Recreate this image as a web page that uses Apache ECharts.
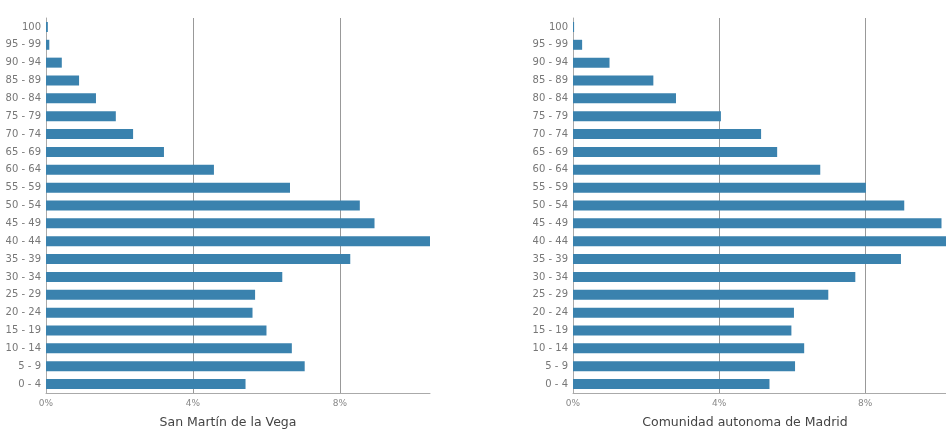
<!DOCTYPE html>
<html><head><meta charset="utf-8">
<script src="https://cdn.jsdelivr.net/npm/echarts@6/dist/echarts.min.js"></script>
<style>html,body{margin:0;padding:0;background:#fff;overflow:hidden}#c{width:960px;height:429px}</style>
</head><body><div id="c"></div>
<script>
const categories = ['0 - 4','5 - 9','10 - 14','15 - 19','20 - 24','25 - 29','30 - 34','35 - 39','40 - 44','45 - 49','50 - 54','55 - 59','60 - 64','65 - 69','70 - 74','75 - 79','80 - 84','85 - 89','90 - 94','95 - 99','100'];
const sanMartin = [5.43,7.04,6.69,6.0,5.62,5.69,6.43,8.28,10.45,8.94,8.54,6.64,4.57,3.21,2.37,1.9,1.36,0.9,0.43,0.09,0.05];
const madrid = [5.38,6.08,6.33,5.98,6.05,6.99,7.73,8.98,10.35,10.09,9.07,8.02,6.77,5.59,5.15,4.05,2.82,2.2,1.0,0.25,0.03];
const titles = ['San Martín de la Vega','Comunidad autonoma de Madrid'];

const font = 'DejaVu Sans';
const barColor = '#3a82ae';
function xAxis(i, max){
  return {gridIndex:i, type:'value', min:0, max:max, interval:4,
    axisLine:{show:true, lineStyle:{color:'#aaa', width:1}},
    axisTick:{show:false},
    axisLabel:{formatter:'{value}%', color:'#888', fontSize:9, fontFamily:font, showMaxLabel:false, margin:6},
    splitLine:{show:true, showMinLine:false, showMaxLine:false, lineStyle:{color:'#999', width:1}}};
}
function yAxis(i){
  return {gridIndex:i, type:'category', data:categories,
    axisLine:{show:true, lineStyle:{color:'#aaa', width:1}},
    axisTick:{show:false},
    axisLabel:{color:'#777', fontSize:10, fontFamily:font, margin:5}};
}
const chart = echarts.init(document.getElementById('c'), null, {renderer:'canvas'});
chart.setOption({
  animation:false,
  title: [
    {text:titles[0], left:223, top:411, textAlign:'center', textStyle:{fontSize:12.5, fontWeight:'normal', color:'#444', fontFamily:font}},
    {text:titles[1], left:740, top:411, textAlign:'center', textStyle:{fontSize:12.5, fontWeight:'normal', color:'#444', fontFamily:font}}
  ],
  grid: [
    {left:46, right:530, top:18, bottom:36, containLabel:false},
    {left:573, right:9, top:18, bottom:36, containLabel:false}
  ],
  xAxis:[xAxis(0, 10.45), xAxis(1, 10.35)],
  yAxis:[yAxis(0), yAxis(1)],
  series:[
    {type:'bar', xAxisIndex:0, yAxisIndex:0, data:sanMartin, barWidth:10, itemStyle:{color:barColor}},
    {type:'bar', xAxisIndex:1, yAxisIndex:1, data:madrid, barWidth:10, itemStyle:{color:barColor}}
  ]
});
</script></body></html>
